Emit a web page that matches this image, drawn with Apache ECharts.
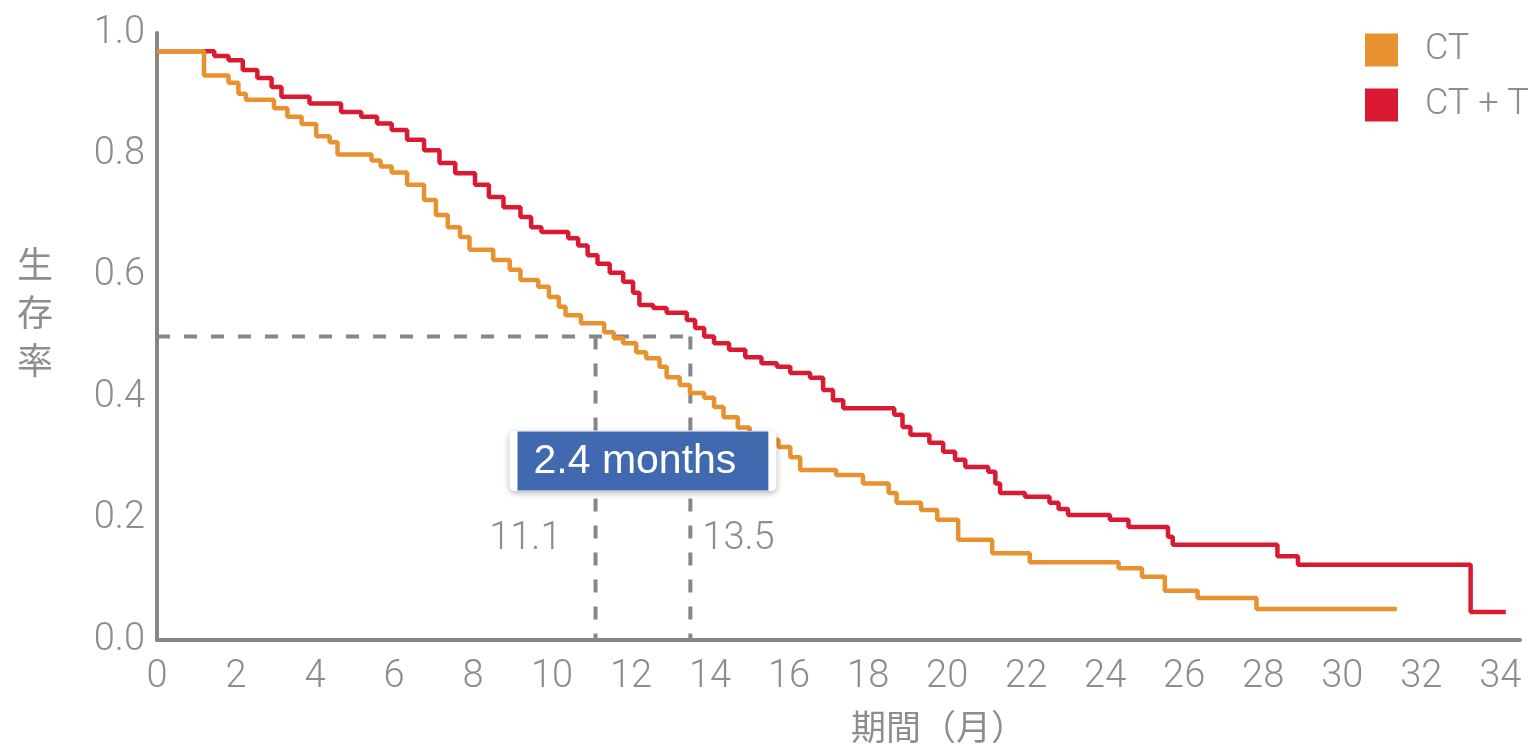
<!DOCTYPE html>
<html>
<head>
<meta charset="utf-8">
<script src="https://cdn.jsdelivr.net/npm/echarts@6/dist/echarts.min.js"></script>
<style>
  html, body { margin: 0; padding: 0; background: #fff; }
  #chart { width: 1538px; height: 752px; }
</style>
</head>
<body>
<div id="chart"></div>
<script>
// Kaplan-Meier steps: time (months) when survival drops, survival after drop
const ctTime = [0, 1.19, 1.81, 2.06, 2.25, 2.96, 3.30, 3.66, 4.03, 4.37, 4.57, 5.43, 5.66, 5.94, 6.33, 6.76, 7.06, 7.36, 7.67, 7.91, 8.51,
  8.93, 9.20, 9.65, 9.92, 10.17, 10.34, 10.73, 11.32, 11.56, 11.80, 12.13, 12.38, 12.72, 12.90, 13.23, 13.49, 13.85, 14.10, 14.34,
  14.70, 15.00, 15.37, 15.73, 16.03, 16.28, 17.19, 17.87, 18.52, 18.72, 19.34, 19.75, 20.28, 21.14, 22.09, 24.34, 24.93, 25.51,
  26.34, 27.83, 31.38];
const ctSurv = [0.97, 0.93, 0.918, 0.90, 0.89, 0.876, 0.862, 0.85, 0.83, 0.82, 0.80, 0.79, 0.78, 0.77, 0.75, 0.725, 0.70, 0.68, 0.664, 0.643, 0.626,
  0.61, 0.593, 0.582, 0.565, 0.549, 0.535, 0.522, 0.507, 0.497, 0.489, 0.474, 0.464, 0.45, 0.433, 0.42, 0.407, 0.399, 0.384, 0.367,
  0.35, 0.34, 0.33, 0.318, 0.301, 0.28, 0.272, 0.258, 0.242, 0.226, 0.214, 0.198, 0.165, 0.143, 0.128, 0.118, 0.104, 0.081,
  0.069, 0.051, 0.051];

const ctTTime = [0, 1.45, 1.81, 2.17, 2.54, 2.90, 3.15, 3.86, 4.66, 5.17, 5.57, 5.94, 6.33, 6.76, 7.15, 7.55, 8.05, 8.40, 8.77, 9.20,
  9.47, 9.73, 10.41, 10.66, 10.90, 11.15, 11.46, 11.80, 12.05, 12.21, 12.56, 12.90, 13.41, 13.62, 13.85, 14.10, 14.48, 14.89, 15.30,
  15.69, 16.03, 16.53, 16.86, 17.11, 17.37, 18.66, 18.87, 19.07, 19.55, 19.90, 20.20, 20.46, 21.04, 21.22, 21.34, 21.97, 22.59,
  22.82, 23.06, 24.12, 24.59, 25.59, 25.71, 28.36, 28.88, 33.25, 34.14];
const ctTSurv = [0.97, 0.962, 0.955, 0.939, 0.926, 0.911, 0.895, 0.884, 0.87, 0.862, 0.851, 0.84, 0.824, 0.807, 0.786, 0.769, 0.75, 0.73, 0.713, 0.697,
  0.68, 0.672, 0.662, 0.65, 0.634, 0.62, 0.605, 0.59, 0.572, 0.552, 0.547, 0.539, 0.527, 0.514, 0.50, 0.489, 0.478, 0.466, 0.456,
  0.45, 0.44, 0.432, 0.412, 0.395, 0.382, 0.371, 0.351, 0.338, 0.325, 0.31, 0.297, 0.285, 0.277, 0.258, 0.242, 0.236, 0.226,
  0.216, 0.206, 0.198, 0.186, 0.17, 0.157, 0.138, 0.124, 0.046, 0.046];

const seriesNames = ["CT", "CT + T"];
const medians = [11.1, 13.5];
const medianLevel = 0.5;
const medianLabelLevel = 0.165;
const gapText = "2.4 months";
const gapLabelLevel = 0.295;

const gray = "#878787";
const textGray = "#8d8d8d";
const font = "Roboto";
const cjkFont = "Noto Sans CJK JP";

const zip = (a, b) => a.map((v, i) => [v, b[i]]);

const dashStyle = { color: gray, width: 4, type: [13, 14] };
const dashSeries = (data) => ({
  type: "line", data, silent: true, symbol: "none", lineStyle: dashStyle, z: 1
});

const chart = echarts.init(document.getElementById("chart"));

const option = {
  animation: false,
  grid: { left: 157, right: 18, top: 33, bottom: 112, containLabel: false },
  legend: {
    data: seriesNames,
    orient: "vertical",
    left: 1365,
    top: 32,
    padding: 0,
    icon: "rect",
    itemWidth: 33,
    itemHeight: 33,
    itemGap: 19,
    textStyle: { fontSize: 36, color: textGray, fontFamily: font, fontWeight: 300, padding: [0, 0, 0, 22] }
  },
  xAxis: {
    type: "value",
    min: 0,
    max: 34.5,
    interval: 2,
    name: "期間（月）",
    nameLocation: "middle",
    nameGap: 69,
    nameTextStyle: { fontSize: 35, color: textGray, fontFamily: cjkFont, padding: [0, 0, 0, 200] },
    axisLine: { lineStyle: { color: gray, width: 4 } },
    axisTick: { show: false },
    splitLine: { show: false },
    axisLabel: { fontSize: 38, color: textGray, fontFamily: font, fontWeight: 300, margin: 18, showMaxLabel: false }
  },
  yAxis: {
    type: "value",
    min: 0,
    max: 1,
    interval: 0.2,
    // trailing blank line lifts the vertical name above the axis middle, as in the source
    name: "生\n存\n率\n ",
    nameLocation: "middle",
    nameRotate: 0,
    nameGap: 104,
    nameTextStyle: { fontSize: 36, lineHeight: 48, color: textGray, fontFamily: cjkFont },
    axisLine: { show: true, lineStyle: { color: gray, width: 4 } },
    axisTick: { show: false },
    splitLine: { show: false },
    axisLabel: { fontSize: 38, color: textGray, fontFamily: font, fontWeight: 300, margin: 12, formatter: (v) => v.toFixed(1) }
  },
  series: [
    dashSeries([[0, medianLevel], [medians[1], medianLevel]]),
    dashSeries([[medians[0], medianLevel], [medians[0], 0]]),
    dashSeries([[medians[1], medianLevel], [medians[1], 0]]),
    {
      name: seriesNames[1],
      type: "line",
      step: "end",
      showSymbol: false,
      color: "#DA1A32",
      lineStyle: { width: 4.5 },
      data: zip(ctTTime, ctTSurv),
      z: 2
    },
    {
      name: seriesNames[0],
      type: "line",
      step: "end",
      showSymbol: false,
      color: "#E8912F",
      lineStyle: { width: 4.5 },
      data: zip(ctTime, ctSurv),
      z: 3
    },
    {
      type: "scatter",
      silent: true,
      symbolSize: 0,
      itemStyle: { opacity: 1 },
      z: 4,
      data: [
        { value: [medians[0], medianLabelLevel], label: { position: "left", distance: 34 } },
        { value: [medians[1], medianLabelLevel], label: { position: "right", distance: 12 } }
      ],
      label: {
        show: true,
        fontSize: 38,
        color: textGray,
        fontFamily: font,
        fontWeight: 300,
        formatter: (p) => p.value[0].toFixed(1)
      }
    },
    {
      type: "scatter",
      silent: true,
      symbolSize: 0,
      itemStyle: { opacity: 1 },
      z: 10,
      zlevel: 1,
      data: [[(medians[0] + medians[1]) / 2, gapLabelLevel]],
      label: {
        show: true,
        position: "inside",
        formatter: "{b|" + gapText + "}",
        backgroundColor: "#fff",
        padding: 8,
        borderRadius: 5,
        shadowBlur: 6,
        shadowColor: "rgba(0,0,0,0.3)",
        shadowOffsetY: 2,
        rich: {
          b: {
            backgroundColor: "#4169B0",
            color: "#fff",
            fontSize: 41,
            lineHeight: 44,
            fontFamily: "Liberation Sans",
            padding: [10, 32, 8, 16]
          }
        }
      }
    }
  ]
};

chart.setOption(option);
</script>
</body>
</html>
